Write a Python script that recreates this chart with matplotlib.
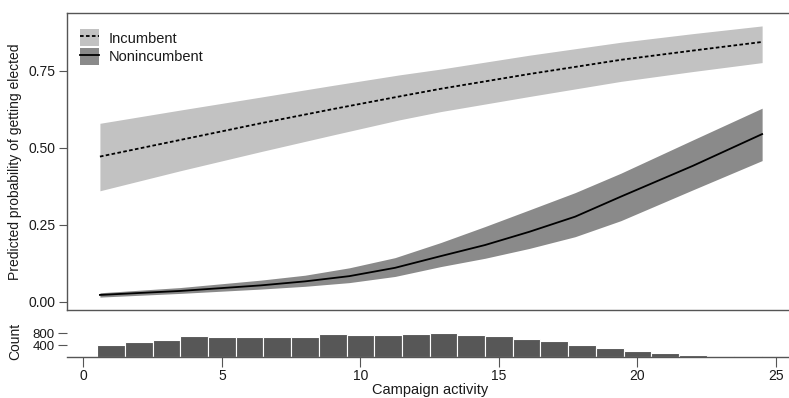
import matplotlib
matplotlib.use('Agg')
import matplotlib.pyplot as plt
from matplotlib.patches import Patch
from matplotlib.lines import Line2D

plt.rcParams['font.family'] = ['Liberation Sans', 'DejaVu Sans']

# predicted probability, incumbents
inc_x = [0.6, 3.5, 6.4, 9.0, 11.4, 12.9, 16.1, 19.4, 22.0, 24.5]
inc_fit = [0.471, 0.525, 0.579, 0.625, 0.666, 0.691, 0.739, 0.785, 0.815, 0.843]
inc_lo = [0.360, 0.425, 0.487, 0.541, 0.590, 0.617, 0.666, 0.715, 0.747, 0.776]
inc_hi = [0.579, 0.622, 0.664, 0.702, 0.736, 0.755, 0.800, 0.842, 0.870, 0.895]

# predicted probability, nonincumbents
non_x = [0.6, 3.5, 6.4, 8.0, 9.6, 11.25, 12.9, 14.5, 16.1, 17.75, 19.4, 22.0, 24.5]
non_fit = [0.022, 0.035, 0.053, 0.066, 0.083, 0.110, 0.148, 0.184, 0.227, 0.276, 0.341, 0.441, 0.544]
non_lo = [0.015, 0.027, 0.041, 0.050, 0.062, 0.082, 0.114, 0.141, 0.173, 0.211, 0.263, 0.363, 0.458]
non_hi = [0.029, 0.046, 0.070, 0.086, 0.110, 0.143, 0.192, 0.244, 0.298, 0.354, 0.417, 0.525, 0.628]

# histogram of campaign activity
bins = list(range(1, 25))
counts = [405, 495, 585, 715, 690, 665, 665, 665, 765, 755, 730, 765,
          800, 755, 705, 600, 530, 405, 305, 210, 140, 65, 30, 20]

light = '#c2c2c2'
dark = '#8a8a8a'
spine_col = '#555555'
txt = '#1a1a1a'

fig = plt.figure(figsize=(7.89, 3.98), dpi=100)
ax = fig.add_axes([0.0845, 0.221, 0.9155, 0.7456])
axh = fig.add_axes([0.0845, 0.1035, 0.9155, 0.0990])

ax.fill_between(inc_x, inc_lo, inc_hi, color=light, lw=0)
ax.fill_between(non_x, non_lo, non_hi, color=dark, lw=0)
ax.plot(inc_x, inc_fit, color='black', ls=(0, (2, 1.3)), lw=1.3)
ax.plot(non_x, non_fit, color='black', lw=1.3)

ax.set_xlim(-0.6, 25.47)
ax.set_ylim(-0.027, 0.936)
ax.set_yticks([0, 0.25, 0.5, 0.75])
ax.set_yticklabels(['0.00', '0.25', '0.50', '0.75'])
ax.set_xticks([])
ax.spines['right'].set_visible(False)
for s in ['left', 'top', 'bottom']:
    ax.spines[s].set_color(spine_col)
    ax.spines[s].set_linewidth(1.0)
ax.tick_params(axis='y', length=6, width=0.8, color=spine_col, pad=2,
               labelsize=10, labelcolor=txt)
ax.set_ylabel('Predicted probability of getting elected', fontsize=10, color=txt)
ax.yaxis.set_label_coords(-0.062, 0.5)

h1 = (Patch(color=light, lw=0), Line2D([], [], color='black', ls=(0, (2, 1.3)), lw=1.3))
h2 = (Patch(color=dark, lw=0), Line2D([], [], color='black', lw=1.3))
ax.legend([h1, h2], ['Incumbent', 'Nonincumbent'], loc='upper left',
          bbox_to_anchor=(0.0184, 0.947), frameon=False, fontsize=10.5,
          borderpad=0, borderaxespad=0, handlelength=1.3, handleheight=1.45,
          handletextpad=0.65, labelspacing=0.1, labelcolor=txt)

axh.bar(bins, counts, width=1.0, color='#575757', edgecolor='white', lw=0.8)
axh.set_xlim(-0.6, 25.47)
axh.set_ylim(0, 1345)
axh.set_yticks([400, 800])
axh.set_xticks([0, 5, 10, 15, 20, 25])
for s in ['left', 'top', 'right']:
    axh.spines[s].set_visible(False)
axh.spines['bottom'].set_color(spine_col)
axh.spines['bottom'].set_linewidth(1.0)
axh.tick_params(axis='y', length=6.5, width=0.8, color=spine_col, pad=2,
                labelsize=9.5, labelcolor=txt)
axh.tick_params(axis='x', length=7, width=0.8, color=spine_col, pad=2,
                labelsize=10, labelcolor=txt)
axh.set_ylabel('Count', fontsize=10, color=txt)
axh.yaxis.set_label_coords(-0.062, 0.4)
axh.set_xlabel('Campaign activity', fontsize=10.5, color=txt)
axh.xaxis.set_label_coords(0.503, -0.66)

fig.savefig('out.png', dpi=100)
